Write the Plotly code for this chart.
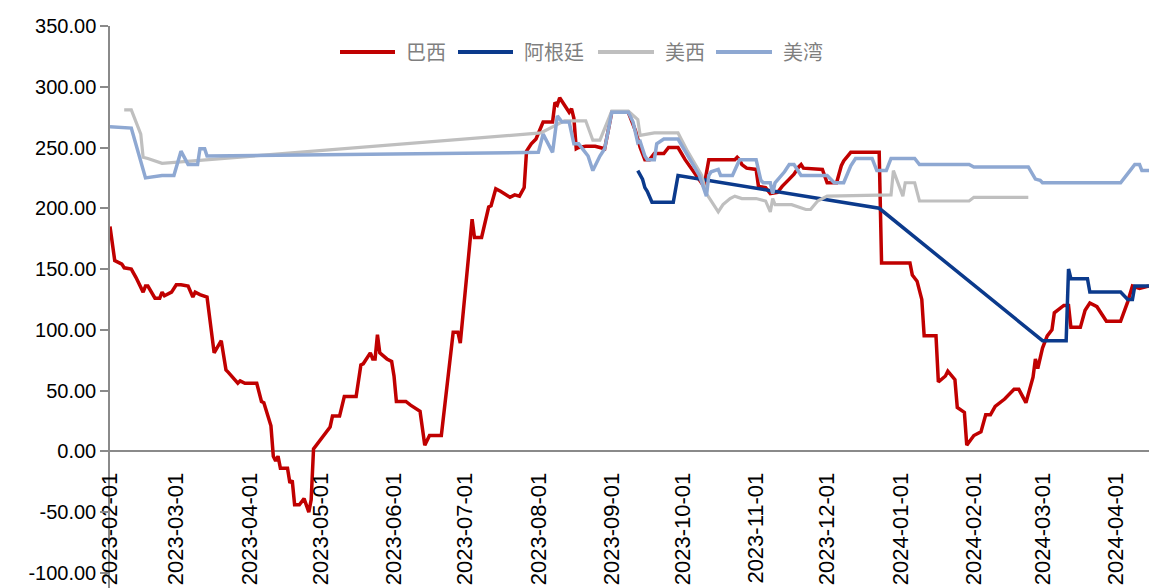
import plotly.graph_objects as go

# ---- data -------------------------------------------------------------
br_dates = [
    "2023-02-01", "2023-02-03", "2023-02-06", "2023-02-07", "2023-02-10", "2023-02-12",
    "2023-02-15", "2023-02-16", "2023-02-17", "2023-02-20", "2023-02-22", "2023-02-23",
    "2023-02-24", "2023-02-27", "2023-03-01", "2023-03-03", "2023-03-06", "2023-03-08",
    "2023-03-09", "2023-03-11", "2023-03-14", "2023-03-17", "2023-03-20", "2023-03-22",
    "2023-03-23", "2023-03-27", "2023-03-28", "2023-03-30", "2023-04-04", "2023-04-06",
    "2023-04-07", "2023-04-10", "2023-04-11", "2023-04-12", "2023-04-13", "2023-04-14",
    "2023-04-17", "2023-04-18", "2023-04-19", "2023-04-20", "2023-04-22", "2023-04-24",
    "2023-04-26", "2023-04-27", "2023-04-28", "2023-05-05", "2023-05-06", "2023-05-09",
    "2023-05-11", "2023-05-16", "2023-05-18", "2023-05-19", "2023-05-22", "2023-05-23",
    "2023-05-24", "2023-05-25", "2023-05-26", "2023-05-29", "2023-05-31", "2023-06-01",
    "2023-06-02", "2023-06-06", "2023-06-08", "2023-06-12", "2023-06-14", "2023-06-16",
    "2023-06-21", "2023-06-26", "2023-06-28", "2023-06-29", "2023-07-04", "2023-07-05",
    "2023-07-08", "2023-07-11", "2023-07-12", "2023-07-14", "2023-07-16", "2023-07-20",
    "2023-07-22", "2023-07-24", "2023-07-26", "2023-07-27", "2023-07-29", "2023-07-31",
    "2023-08-03", "2023-08-07", "2023-08-08", "2023-08-09", "2023-08-10", "2023-08-13",
    "2023-08-14", "2023-08-15", "2023-08-16", "2023-08-17", "2023-08-18", "2023-08-21",
    "2023-08-25", "2023-08-27", "2023-08-29", "2023-09-01", "2023-09-08", "2023-09-11",
    "2023-09-13", "2023-09-15", "2023-09-17", "2023-09-19", "2023-09-23", "2023-09-25",
    "2023-09-29", "2023-10-02", "2023-10-07", "2023-10-10", "2023-10-12", "2023-10-23",
    "2023-10-24", "2023-10-25", "2023-10-26", "2023-10-28", "2023-11-01", "2023-11-02",
    "2023-11-05", "2023-11-07", "2023-11-10", "2023-11-12", "2023-11-15", "2023-11-17",
    "2023-11-19", "2023-11-20", "2023-11-21", "2023-11-29", "2023-12-01", "2023-12-05",
    "2023-12-07", "2023-12-08", "2023-12-11", "2023-12-23", "2023-12-24", "2024-01-05",
    "2024-01-06", "2024-01-08", "2024-01-10", "2024-01-11", "2024-01-16", "2024-01-17",
    "2024-01-20", "2024-01-21", "2024-01-24", "2024-01-25", "2024-01-28", "2024-01-29",
    "2024-02-01", "2024-02-04", "2024-02-06", "2024-02-08", "2024-02-10", "2024-02-14",
    "2024-02-18", "2024-02-20", "2024-02-23", "2024-02-26", "2024-02-27", "2024-02-28",
    "2024-03-01", "2024-03-03", "2024-03-05", "2024-03-06", "2024-03-08", "2024-03-10",
    "2024-03-12", "2024-03-13", "2024-03-17", "2024-03-19", "2024-03-21", "2024-03-24",
    "2024-03-28", "2024-04-03", "2024-04-06", "2024-04-08", "2024-04-11", "2024-04-15",
]
br_vals = [
    185, 157, 154, 151, 150, 143,
    131, 136, 136, 126, 126, 131,
    128, 131, 137, 137, 136, 127,
    131, 129, 127, 81, 91, 67,
    65, 56, 58, 56, 56, 41,
    40, 21, -4, -8, -4, -14,
    -14, -26, -24, -44, -44, -39,
    -50, -40, 2, 20, 29, 29,
    45, 45, 71, 72, 81, 76,
    76, 96, 81, 76, 74, 62,
    41, 41, 38, 33, 5, 13,
    13, 98, 98, 89, 191, 176,
    176, 201, 202, 216, 214, 209,
    211, 210, 217, 247, 253, 257,
    271, 271, 287, 285, 291, 282,
    279, 282, 274, 249, 250, 251,
    251, 250, 249, 279, 279, 264,
    250, 240, 240, 245, 245, 250,
    250, 240, 227, 218, 240, 240,
    242, 240, 236, 233, 232, 218,
    217, 212, 213, 218, 224, 228,
    234, 236, 233, 232, 221, 221,
    235, 239, 246, 246, 155, 155,
    145, 140, 125, 95, 95, 57,
    62, 66, 59, 36, 32, 5,
    13, 16, 30, 30, 37, 43,
    51, 51, 40, 61, 76, 68,
    85, 95, 100, 114, 117, 120,
    120, 102, 102, 116, 122, 119,
    107, 107, 123, 136, 134, 136,
]

ar_dates = [
    "2023-09-12", "2023-09-14", "2023-09-15", "2023-09-16", "2023-09-18", "2023-09-27",
    "2023-09-29", "2023-12-18", "2023-12-23", "2024-03-01", "2024-03-11", "2024-03-12",
    "2024-03-13", "2024-03-20", "2024-03-21", "2024-04-03", "2024-04-06", "2024-04-08",
    "2024-04-09", "2024-04-15",
]
ar_vals = [
    231, 224, 217, 214, 205, 205,
    227, 201, 200, 91, 91, 150,
    142, 142, 131, 131, 125, 125,
    136, 136,
]

mx_dates = [
    "2023-02-07", "2023-02-10", "2023-02-14", "2023-02-15", "2023-02-17", "2023-02-23",
    "2023-08-02", "2023-08-12", "2023-08-21", "2023-08-24", "2023-08-27", "2023-08-29",
    "2023-09-01", "2023-09-08", "2023-09-12", "2023-09-13", "2023-09-19", "2023-09-29",
    "2023-10-03", "2023-10-09", "2023-10-11", "2023-10-16", "2023-10-18", "2023-10-21",
    "2023-10-23", "2023-10-26", "2023-11-01", "2023-11-05", "2023-11-07", "2023-11-08",
    "2023-11-09", "2023-11-16", "2023-11-22", "2023-11-24", "2023-11-27", "2023-12-01",
    "2023-12-28", "2023-12-29", "2024-01-02", "2024-01-03", "2024-01-07", "2024-01-09",
    "2024-01-30", "2024-02-01", "2024-02-24",
]
mx_vals = [
    281, 281, 261, 242, 241, 237,
    262, 272, 272, 256, 256, 265,
    280, 280, 273, 260, 262, 262,
    247, 227, 212, 197, 203, 208,
    210, 208, 208, 206, 197, 208,
    203, 203, 199, 199, 206, 210,
    211, 231, 210, 221, 221, 206,
    206, 209, 209,
]

us_dates = [
    "2023-02-01", "2023-02-10", "2023-02-16", "2023-02-23", "2023-02-28", "2023-03-03",
    "2023-03-06", "2023-03-10", "2023-03-11", "2023-03-13", "2023-03-14", "2023-08-01",
    "2023-08-03", "2023-08-07", "2023-08-09", "2023-08-11", "2023-08-14", "2023-08-16",
    "2023-08-18", "2023-08-22", "2023-08-24", "2023-08-27", "2023-08-29", "2023-09-01",
    "2023-09-08", "2023-09-10", "2023-09-12", "2023-09-13", "2023-09-15", "2023-09-16",
    "2023-09-19", "2023-09-20", "2023-09-23", "2023-09-29", "2023-10-08", "2023-10-11",
    "2023-10-12", "2023-10-13", "2023-10-16", "2023-10-17", "2023-10-22", "2023-10-25",
    "2023-11-01", "2023-11-03", "2023-11-04", "2023-11-07", "2023-11-08", "2023-11-09",
    "2023-11-13", "2023-11-15", "2023-11-17", "2023-11-20", "2023-12-01", "2023-12-04",
    "2023-12-08", "2023-12-11", "2023-12-13", "2023-12-20", "2023-12-22", "2023-12-26",
    "2023-12-28", "2024-01-07", "2024-01-09", "2024-01-30", "2024-02-01", "2024-02-24",
    "2024-02-27", "2024-02-29", "2024-03-01", "2024-04-03", "2024-04-07", "2024-04-09",
    "2024-04-11", "2024-04-12", "2024-04-15",
]
us_vals = [
    267, 266, 225, 227, 227, 247,
    236, 236, 249, 249, 243, 246,
    261, 246, 276, 271, 271, 253,
    253, 243, 231, 243, 249, 279,
    279, 271, 254, 255, 243, 240,
    240, 253, 257, 257, 227, 210,
    227, 230, 232, 227, 227, 240,
    240, 223, 221, 221, 212, 221,
    230, 236, 236, 227, 227, 221,
    221, 235, 241, 241, 231, 231,
    241, 241, 236, 236, 234, 234,
    224, 223, 221, 221, 231, 236,
    236, 231, 231,
]

month_ticks = [
    "2023-02-01", "2023-03-01", "2023-04-01", "2023-05-01", "2023-06-01",
    "2023-07-01", "2023-08-01", "2023-09-01", "2023-10-01", "2023-11-01",
    "2023-12-01", "2024-01-01", "2024-02-01", "2024-03-01", "2024-04-01",
]
y_ticks = [-100, -50, 0, 50, 100, 150, 200, 250, 300, 350]

series = [
    ("巴西", br_dates, br_vals, "#C00000", 3.5),
    ("阿根廷", ar_dates, ar_vals, "#0B3A8C", 3.5),
    ("美西", mx_dates, mx_vals, "#BFBFBF", 3.2),
    ("美湾", us_dates, us_vals, "#8EA8D2", 3.5),
]

# ---- figure -----------------------------------------------------------
W, H = 1151, 588
ML, MR, MT, MB = 110, 2, 26, 0
Y_MIN, Y_MAX = -112.5, 350

fig = go.Figure()
for name, d, v, color, width in series:
    fig.add_trace(go.Scatter(
        x=d, y=v, mode="lines", name=name, showlegend=False,
        line=dict(color=color, width=width),
    ))

axis_grey = "#8A8A8A"
tick_font = dict(family="Liberation Sans, Arial, sans-serif", color="#000000")

fig.update_layout(
    width=W, height=H,
    margin=dict(l=ML, r=MR, t=MT, b=MB, pad=0),
    paper_bgcolor="white", plot_bgcolor="white",
    showlegend=False,
    xaxis=dict(
        type="date",
        range=["2023-02-01", "2024-04-15"],
        tickmode="array", tickvals=month_ticks, ticktext=month_ticks,
        tickangle=-90,
        tickfont=dict(size=22, **tick_font),
        ticks="", showgrid=False, showline=False, zeroline=False,
        anchor="free",
        position=(0 - Y_MIN) / (Y_MAX - Y_MIN),
        ticklabelstandoff=16,
        automargin=False,
    ),
    yaxis=dict(
        range=[Y_MIN, Y_MAX],
        tickmode="array", tickvals=y_ticks,
        ticktext=[f"{t:.2f}" for t in y_ticks],
        tickfont=dict(size=20, **tick_font),
        ticks="outside", ticklen=8, tickwidth=1.5, tickcolor=axis_grey,
        showline=True, linecolor=axis_grey, linewidth=1.5,
        showgrid=False,
        zeroline=True, zerolinecolor=axis_grey, zerolinewidth=1.5,
        automargin=False,
    ),
)

# ---- legend drawn along the top of the plot ---------------------------
plot_w = W - ML - MR
plot_h = H - MT - MB


def px_to_paper_x(px):
    return (px - ML) / plot_w


legend_y = 1 - (52 - MT) / plot_h
legend_items = [
    ("巴西", "#C00000", 340, 395, 404),
    ("阿根廷", "#0B3A8C", 458, 513, 522),
    ("美西", "#BFBFBF", 598, 654, 663),
    ("美湾", "#8EA8D2", 716, 772, 781),
]
for label, color, x0, x1, tx in legend_items:
    fig.add_shape(
        type="line", xref="paper", yref="paper",
        x0=px_to_paper_x(x0), x1=px_to_paper_x(x1), y0=legend_y, y1=legend_y,
        line=dict(color=color, width=4),
    )
    fig.add_annotation(
        xref="paper", yref="paper", x=px_to_paper_x(tx), y=legend_y,
        xanchor="left", yanchor="middle", showarrow=False,
        text=label,
        font=dict(family="Noto Sans CJK SC", size=20, color="#7F7F7F"),
    )

fig.write_html("out.html")
